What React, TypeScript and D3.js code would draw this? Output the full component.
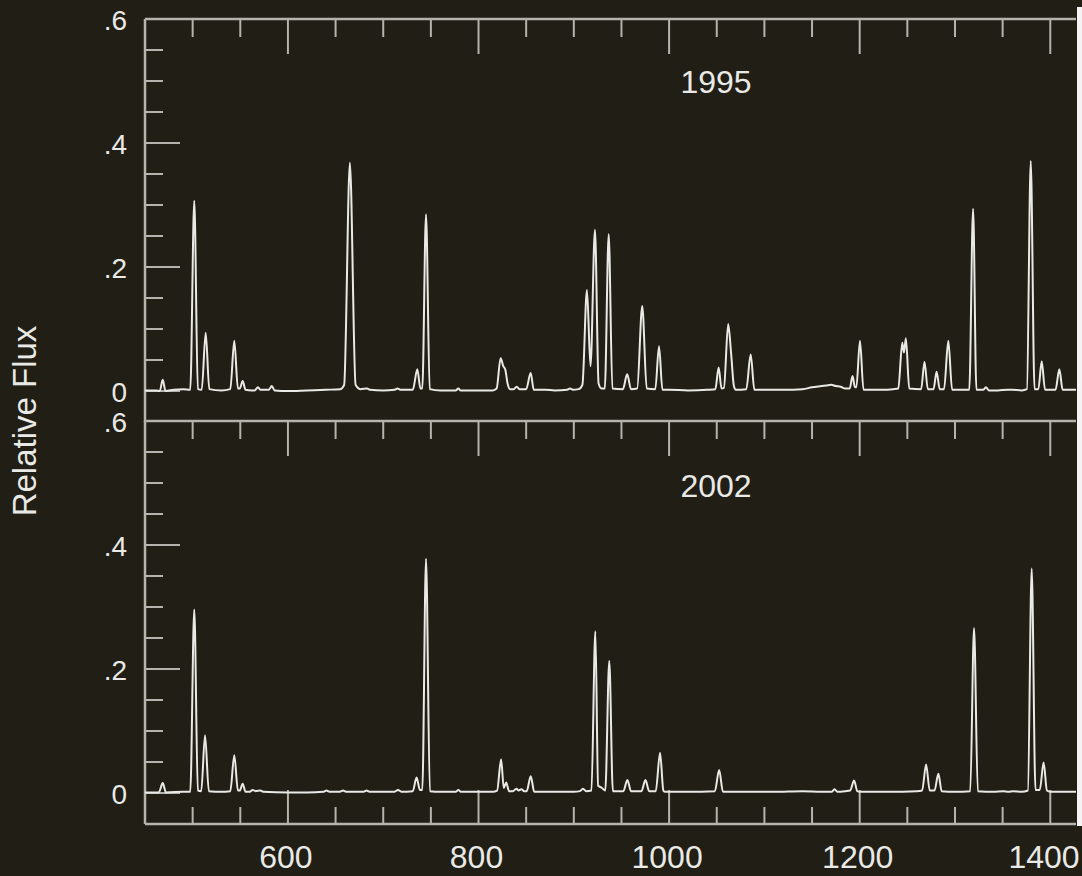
import React from "react";
import * as d3 from "d3";

// Emission-line spectra, two epochs. Vertices (wavelength, relative flux).
const wave1995 = [
  450, 462, 465.5, 468.6, 471.5, 480, 490, 497.5, 501.7, 505.5, 509.5, 513.7, 517.5, 530, 539.5, 543.7, 547.5, 549.5,
  552.5, 555.5, 562, 565, 568.6, 571, 580, 583, 586, 600, 620, 640, 655, 659, 665, 671, 676, 683, 686, 700, 712, 715,
  718, 731, 735.8, 739, 741, 744.9, 748.8, 760, 776, 778.8, 781, 800, 815, 819, 823.2, 826, 828, 830.5, 833, 837, 840,
  843, 850, 854.7, 858, 870, 880, 893, 896, 899, 905, 909, 913.8, 917.5, 922.2, 926, 929, 932.5, 936.6, 940.5, 951.5,
  956, 960, 966.5, 971.8, 976.5, 985.5, 989.4, 993, 1000, 1020, 1040, 1048.5, 1052, 1055, 1057.5, 1062, 1065, 1068,
  1070, 1081, 1085.6, 1089.5, 1100, 1120, 1140, 1150, 1160, 1165, 1170, 1175, 1180, 1185, 1189.5, 1192.5, 1195,
  1196.5, 1200.3, 1204, 1215, 1225, 1235, 1240.5, 1244.7, 1246.5, 1248.5, 1252, 1264.5, 1268, 1271.5, 1277.5,
  1280.7, 1284, 1288.5, 1293, 1297, 1305, 1315, 1319, 1322.5, 1329.5, 1332.5, 1335.5, 1345, 1355, 1360, 1370, 1375.5,
  1379.5, 1383.5, 1387.5, 1391, 1394.5, 1405.5, 1409.5, 1413, 1427,
];
const flux1995 = [
  0.001, 0.001, 0, 0.018, 0, 0.002, 0.003, 0.002, 0.307, 0.003, 0.002, 0.094, 0.003, 0.001, 0.003, 0.081, 0.004, 0.004,
  0.016, 0.002, 0.001, 0.001, 0.006, 0.002, 0.002, 0.008, 0.001, 0.0, 0.001, 0.002, 0.003, 0.01, 0.368, 0.01, 0.003,
  0.004, 0.002, 0.001, 0.002, 0.004, 0.002, 0.002, 0.035, 0.004, 0.004, 0.285, 0.003, 0.001, 0.001, 0.004, 0.001,
  0.001, 0.001, 0.004, 0.053, 0.04, 0.035, 0.012, 0.003, 0.003, 0.007, 0.003, 0.003, 0.029, 0.002, 0.002, 0.001,
  0.002, 0.004, 0.002, 0.003, 0.01, 0.163, 0.04, 0.26, 0.012, 0.004, 0.004, 0.253, 0.004, 0.003, 0.027, 0.003, 0.004,
  0.137, 0.004, 0.003, 0.072, 0.002, 0.002, 0.001, 0.002, 0.003, 0.038, 0.004, 0.005, 0.108, 0.062, 0.008, 0.002,
  0.003, 0.059, 0.002, 0.002, 0.002, 0.003, 0.006, 0.008, 0.009, 0.01, 0.008, 0.007, 0.004, 0.004, 0.024, 0.006,
  0.006, 0.081, 0.002, 0.002, 0.002, 0.003, 0.004, 0.078, 0.062, 0.085, 0.004, 0.003, 0.047, 0.003, 0.003, 0.031,
  0.003, 0.003, 0.081, 0.002, 0.002, 0.002, 0.294, 0.002, 0.002, 0.006, 0.001, 0.001, 0.002, 0.002, 0.001, 0.003,
  0.371, 0.003, 0.003, 0.048, 0.002, 0.002, 0.035, 0.002, 0.002,
];

const wave2002 = [
  450, 464.5, 468.6, 472, 490, 497.5, 501.7, 505.5, 509, 513, 517, 530, 539.5, 543.7, 547.5, 549.5, 552.5, 555.5, 560,
  563, 566, 571, 574, 600, 620, 637.5, 640.5, 643.5, 654.5, 657.8, 661, 679.5, 682.6, 685.5, 712, 715.5, 719, 731, 735,
  738.5, 741, 744.9, 749, 760, 776, 778.8, 781.5, 800, 815, 819.5, 823.7, 826.5, 829, 832, 836, 839.8, 842, 845, 848,
  850.5, 854.8, 858.5, 875, 900, 906.5, 909.6, 913, 918.5, 922.6, 925.5, 927.5, 929.5, 933, 937.2, 941, 952, 956.2,
  960, 971, 975.2, 979, 986, 990.5, 994, 996, 1020, 1048, 1052.5, 1056.5, 1080, 1110, 1140, 1160, 1170.5, 1173.6,
  1176.5, 1185, 1190, 1194.1, 1197.5, 1200, 1230, 1260, 1265.5, 1269.7, 1273.5, 1278.5, 1282.6, 1286, 1300, 1316,
  1320, 1324, 1340, 1351, 1356, 1361, 1370, 1376.5, 1380.5, 1384.5, 1389, 1393, 1396.5, 1400, 1427,
];
const flux2002 = [
  0.001, 0.001, 0.016, 0.001, 0.002, 0.002, 0.296, 0.004, 0.003, 0.093, 0.003, 0.002, 0.003, 0.061, 0.004, 0.004,
  0.015, 0.002, 0.002, 0.005, 0.003, 0.004, 0.002, 0.001, 0.001, 0.002, 0.004, 0.002, 0.002, 0.004, 0.002, 0.002,
  0.004, 0.002, 0.002, 0.005, 0.002, 0.003, 0.025, 0.005, 0.005, 0.378, 0.003, 0.002, 0.002, 0.005, 0.002, 0.002,
  0.002, 0.004, 0.054, 0.008, 0.017, 0.003, 0.003, 0.007, 0.004, 0.006, 0.003, 0.003, 0.027, 0.002, 0.002, 0.002,
  0.003, 0.007, 0.003, 0.004, 0.261, 0.012, 0.01, 0.008, 0.004, 0.213, 0.003, 0.003, 0.021, 0.003, 0.003, 0.021,
  0.003, 0.003, 0.065, 0.004, 0.002, 0.002, 0.003, 0.037, 0.002, 0.002, 0.002, 0.003, 0.002, 0.002, 0.006, 0.002,
  0.003, 0.004, 0.02, 0.003, 0.002, 0.002, 0.003, 0.004, 0.046, 0.004, 0.004, 0.031, 0.003, 0.002, 0.003, 0.266,
  0.003, 0.002, 0.003, 0.002, 0.003, 0.002, 0.004, 0.362, 0.005, 0.005, 0.049, 0.004, 0.002, 0.002,
];

const panelYears = ["1995", "2002"];
const xTickLabels = [600, 800, 1000, 1200, 1400];
const yTickLabels = [0, 0.2, 0.4, 0.6];

const W = 1082;
const H = 876;
const BG = "#201e15";
const AXIS = "#b4b3ad";
const INK = "#e9e9e6";
const FONT = "'Liberation Sans', Arial, Helvetica, sans-serif";

const left = 145;
const right = 1076;
const panelTops = [19, 421];
const panelH = 403;

const x = d3.scaleLinear().domain([450, 1427]).range([left, right]);

const fmtY = (v: number) => (v === 0 ? "0" : d3.format(".1f")(v).replace(/^0/, ""));

function Panel({ index, wave, flux }: { index: number; wave: number[]; flux: number[] }) {
  const top = panelTops[index];
  const bottom = top + panelH;
  const y = d3.scaleLinear().domain([-0.05, 0.6]).range([bottom, top]);
  const pts = wave.map((w, i) => [w, flux[i]] as [number, number]);
  const line = d3
    .line<[number, number]>()
    .x((d) => x(d[0]))
    .y((d) => y(d[1]))
    .curve(d3.curveMonotoneX);

  const yMinor = d3.range(0, 0.6001, 0.05);
  const xMinor = d3.range(500, 1401, 50);
  const isMajorY = (v: number) => Math.abs(Math.round(v * 5) - v * 5) < 1e-6;
  const isMajorX = (v: number) => v % 200 === 0;
  const clipId = `clip-${index}`;

  return (
    <g>
      <defs>
        <clipPath id={clipId}>
          <rect x={left} y={top} width={right - left} height={panelH} />
        </clipPath>
      </defs>
      {/* left axis with ticks */}
      <line x1={left} x2={left} y1={top} y2={bottom} stroke={AXIS} strokeWidth={2.5} />
      {yMinor.map((v) => (
        <line
          key={`yt${v}`}
          x1={left}
          x2={left + (isMajorY(v) ? 35 : 18)}
          y1={y(v)}
          y2={y(v)}
          stroke={AXIS}
          strokeWidth={2}
        />
      ))}
      {yTickLabels.map((v) => (
        <text
          key={`yl${v}`}
          x={127}
          y={y(v) + 4}
          textAnchor="end"
          dominantBaseline="middle"
          fontFamily={FONT}
          fontSize={28}
          fill={INK}
        >
          {fmtY(v)}
        </text>
      ))}
      {/* top edge with inward ticks */}
      <line x1={left} x2={right} y1={top} y2={top} stroke={AXIS} strokeWidth={2.5} />
      {xMinor.map((v) => (
        <line
          key={`xt${v}`}
          x1={x(v)}
          x2={x(v)}
          y1={top}
          y2={top + (isMajorX(v) ? 35 : 18)}
          stroke={AXIS}
          strokeWidth={2}
        />
      ))}
      {index === 1 && (
        <g>
          <line x1={left} x2={right} y1={bottom} y2={bottom} stroke={AXIS} strokeWidth={2.5} />
          {xMinor.map((v) => (
            <line
              key={`xb${v}`}
              x1={x(v)}
              x2={x(v)}
              y1={bottom}
              y2={bottom - (isMajorX(v) ? 34 : 17)}
              stroke={AXIS}
              strokeWidth={2}
            />
          ))}
          {xTickLabels.map((v) => (
            <text
              key={`xl${v}`}
              x={Math.min(x(v) - 2, W - 38)}
              y={868}
              textAnchor="middle"
              fontFamily={FONT}
              fontSize={32}
              fill={INK}
            >
              {v}
            </text>
          ))}
        </g>
      )}
      <text
        x={716}
        y={top + (index === 0 ? 74 : 76)}
        textAnchor="middle"
        fontFamily={FONT}
        fontSize={32}
        fill={INK}
      >
        {panelYears[index]}
      </text>
      <g clipPath={`url(#${clipId})`}>
        <path d={line(pts) || ""} fill="none" stroke={INK} strokeWidth={2} strokeLinejoin="round" />
      </g>
    </g>
  );
}

export default function App() {
  return (
    <svg
      width={W}
      height={H}
      viewBox={`0 0 ${W} ${H}`}
      style={{ position: "fixed", left: 0, top: 0, display: "block", background: BG }}
    >
      <rect x={0} y={0} width={W} height={H} fill={BG} />
      <Panel index={0} wave={wave1995} flux={flux1995} />
      <Panel index={1} wave={wave2002} flux={flux2002} />
      <text
        transform="translate(36,421) rotate(-90)"
        textAnchor="middle"
        fontFamily={FONT}
        fontSize={33}
        fill={INK}
      >
        Relative Flux
      </text>
      {/* bright frame strip at the right edge */}
      <rect x={1077} y={7} width={5} height={819} fill="#f4f4f2" />
    </svg>
  );
}
